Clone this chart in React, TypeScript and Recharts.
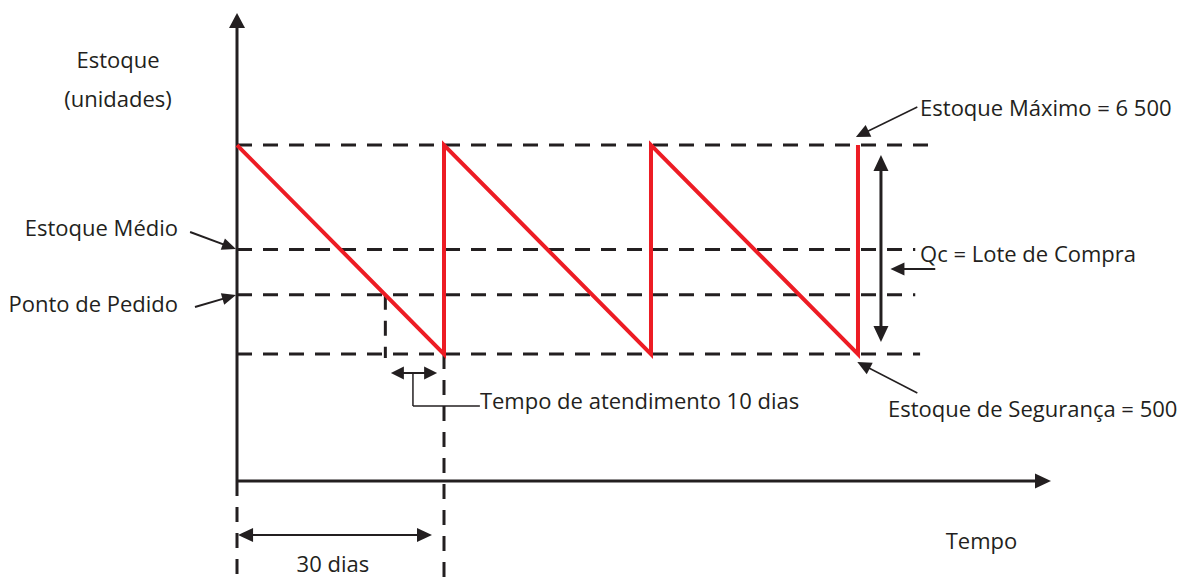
import React from 'react'
import { ComposedChart, Line, XAxis, YAxis, ReferenceLine, ReferenceDot } from 'recharts'

const W = 1182
const H = 577
const INK = '#231F20'
const RED = '#ED1C24'
const FONT = '"Open Sans", "Noto Sans", sans-serif'

// sawtooth: dias x estoque (unidades)
const cycleDays = [0, 30, 30, 60, 60, 90, 90]
const stockUnits = [6500, 500, 6500, 500, 6500, 500, 6500]

// níveis de referência
const ESTOQUE_MAX = 6500
const ESTOQUE_MEDIO = 3500
const PONTO_PEDIDO = 2200
const ESTOQUE_SEG = 500
const CICLO_DIAS = 30

// hidden axes, domains picked so the diagram fills the page
const X_DOMAIN = [-34.35, 136.96]
const Y_DOMAIN = [-5900, 10665]
const AXIS_Y = -3145

const data = cycleDays.map((d, i) => ({ d, u: stockUnits[i] }))
const consumoDia = (ESTOQUE_MAX - ESTOQUE_SEG) / CICLO_DIAS
const diaPedido = (ESTOQUE_MAX - PONTO_PEDIDO) / consumoDia

type ArrowOpts = { start?: boolean; end?: boolean; len?: number; wid?: number }

// line with optional filled arrowheads, used as a ReferenceLine shape
function arrow(o: ArrowOpts = {}) {
  return (p: any) => {
    const { x1, y1, x2, y2, stroke, strokeWidth, strokeDasharray } = p
    const dx = x2 - x1
    const dy = y2 - y1
    const dist = Math.hypot(dx, dy) || 1
    const ux = dx / dist
    const uy = dy / dist
    const len = o.len ?? 14
    const wid = o.wid ?? 12
    const head = (tx: number, ty: number, sx: number, sy: number) => {
      const bx = tx - sx * len
      const by = ty - sy * len
      const px = -sy * wid / 2
      const py = sx * wid / 2
      return `${tx},${ty} ${bx + px},${by + py} ${bx - px},${by - py}`
    }
    const ax = o.start ? x1 + ux * (len - 2) : x1
    const ay = o.start ? y1 + uy * (len - 2) : y1
    const bx = o.end ? x2 - ux * (len - 2) : x2
    const by = o.end ? y2 - uy * (len - 2) : y2
    return (
      <g>
        <line x1={ax} y1={ay} x2={bx} y2={by} stroke={stroke} strokeWidth={strokeWidth}
          strokeDasharray={strokeDasharray} />
        {o.end && <polygon points={head(x2, y2, ux, uy)} fill={stroke} />}
        {o.start && <polygon points={head(x1, y1, -ux, -uy)} fill={stroke} />}
      </g>
    )
  }
}

function label(text: string, anchor: 'start' | 'middle' | 'end' = 'start') {
  return (p: any) => (
    <text x={p.cx} y={p.cy} textAnchor={anchor} dominantBaseline="central"
      fontFamily={FONT} fontSize={22} fill={INK}>
      {text}
    </text>
  )
}

const dash = '15 11'

export default function App() {
  return (
    <div style={{ position: 'absolute', left: 0, top: 0, width: W, height: H, background: '#fff' }}>
      <ComposedChart width={W} height={H} data={data} margin={{ top: 0, right: 0, bottom: 0, left: 0 }}>
        <XAxis dataKey="d" type="number" domain={X_DOMAIN} allowDataOverflow hide />
        <YAxis type="number" domain={Y_DOMAIN} allowDataOverflow hide />

        {/* níveis tracejados */}
        <ReferenceLine segment={[{ x: 0, y: ESTOQUE_MAX }, { x: 101.2, y: ESTOQUE_MAX }]}
          stroke={INK} strokeWidth={3} strokeDasharray={dash} />
        <ReferenceLine segment={[{ x: 0, y: ESTOQUE_MEDIO }, { x: 98.3, y: ESTOQUE_MEDIO }]}
          stroke={INK} strokeWidth={3} strokeDasharray={dash} />
        <ReferenceLine segment={[{ x: 0, y: PONTO_PEDIDO }, { x: 98.3, y: PONTO_PEDIDO }]}
          stroke={INK} strokeWidth={3} strokeDasharray={dash} />
        <ReferenceLine segment={[{ x: 0, y: ESTOQUE_SEG }, { x: 99, y: ESTOQUE_SEG }]}
          stroke={INK} strokeWidth={3} strokeDasharray={dash} />

        {/* verticais tracejadas */}
        <ReferenceLine segment={[{ x: 0, y: AXIS_Y }, { x: 0, y: -5900 }]}
          stroke={INK} strokeWidth={3} strokeDasharray={dash} />
        <ReferenceLine segment={[{ x: CICLO_DIAS, y: ESTOQUE_SEG }, { x: CICLO_DIAS, y: -5900 }]}
          stroke={INK} strokeWidth={3} strokeDasharray={dash} />
        <ReferenceLine segment={[{ x: diaPedido, y: PONTO_PEDIDO }, { x: diaPedido, y: 385 }]}
          stroke={INK} strokeWidth={3} strokeDasharray={dash} />

        {/* eixos */}
        <ReferenceLine segment={[{ x: 0, y: AXIS_Y }, { x: 0, y: 10292 }]}
          stroke={INK} strokeWidth={3} shape={arrow({ end: true, len: 15, wid: 16 })} />
        <ReferenceLine segment={[{ x: 0, y: AXIS_Y }, { x: 117.97, y: AXIS_Y }]}
          stroke={INK} strokeWidth={3} shape={arrow({ end: true, len: 16, wid: 15 })} />

        <Line data={data} dataKey="u" type="linear" stroke={RED} strokeWidth={4}
          dot={false} activeDot={false} isAnimationActive={false} />

        {/* Qc */}
        <ReferenceLine segment={[{ x: 93.33, y: 6215 }, { x: 93.33, y: 847 }]}
          stroke={INK} strokeWidth={3} shape={arrow({ start: true, end: true, len: 16, wid: 15 })} />
        <ReferenceLine segment={[{ x: 101.2, y: 2942 }, { x: 94.7, y: 2942 }]}
          stroke={INK} strokeWidth={2} shape={arrow({ end: true, len: 14, wid: 13 })} />

        {/* setas de legenda */}
        <ReferenceLine segment={[{ x: 98.6, y: 7593 }, { x: 89.7, y: 6732 }]}
          stroke={INK} strokeWidth={1.5} shape={arrow({ end: true, len: 14, wid: 13 })} />
        <ReferenceLine segment={[{ x: 98.6, y: -617 }, { x: 89.9, y: 273 }]}
          stroke={INK} strokeWidth={1.5} shape={arrow({ end: true, len: 14, wid: 13 })} />
        <ReferenceLine segment={[{ x: -6.8, y: 4005 }, { x: -0.15, y: 3517 }]}
          stroke={INK} strokeWidth={2} shape={arrow({ end: true, len: 14, wid: 12 })} />
        <ReferenceLine segment={[{ x: -6.09, y: 1852 }, { x: -0.15, y: 2196 }]}
          stroke={INK} strokeWidth={2} shape={arrow({ end: true, len: 14, wid: 12 })} />

        {/* tempo de atendimento */}
        <ReferenceLine segment={[{ x: 22.3, y: -43 }, { x: 29.0, y: -43 }]}
          stroke={INK} strokeWidth={2} shape={arrow({ start: true, end: true, len: 13, wid: 13 })} />
        <ReferenceLine segment={[{ x: 25.5, y: -43 }, { x: 25.5, y: -990 }]}
          stroke={INK} strokeWidth={1.5} />
        <ReferenceLine segment={[{ x: 25.5, y: -990 }, { x: 35.2, y: -990 }]}
          stroke={INK} strokeWidth={1.5} />

        {/* 30 dias */}
        <ReferenceLine segment={[{ x: 0.15, y: -4695 }, { x: 28.26, y: -4695 }]}
          stroke={INK} strokeWidth={2} shape={arrow({ start: true, end: true, len: 15, wid: 14 })} />

        {/* textos */}
        <ReferenceDot x={-17.25} y={8970} shape={label('Estoque', 'middle')} />
        <ReferenceDot x={-17.25} y={7850} shape={label('(unidades)', 'middle')} />
        <ReferenceDot x={-8.55} y={4150} shape={label('Estoque Médio', 'end')} />
        <ReferenceDot x={-8.55} y={1970} shape={label('Ponto de Pedido', 'end')} />
        <ReferenceDot x={99} y={7590} shape={label('Estoque Máximo = 6 500')} />
        <ReferenceDot x={99} y={3400} shape={label('Qc = Lote de Compra')} />
        <ReferenceDot x={94.35} y={-1050} shape={label('Estoque de Segurança = 500')} />
        <ReferenceDot x={35.2} y={-820} shape={label('Tempo de atendimento 10 dias')} />
        <ReferenceDot x={107.9} y={-4840} shape={label('Tempo', 'middle')} />
        <ReferenceDot x={13.9} y={-5500} shape={label('30 dias', 'middle')} />
      </ComposedChart>
    </div>
  )
}
